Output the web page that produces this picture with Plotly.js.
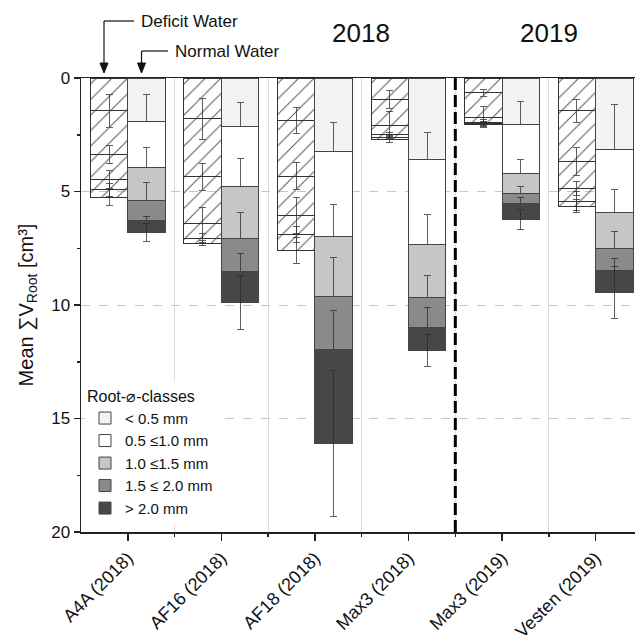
<!DOCTYPE html>
<html>
<head>
<meta charset="utf-8">
<script src="https://cdn.plot.ly/plotly-3.0.1.min.js"></script>
<style>html,body{margin:0;padding:0;background:#fff;}#chart{width:635px;height:638px;}</style>
</head>
<body>
<div id="chart"></div>
<script>
// ---- data ----
const categories = ['A4A (2018)', 'AF16 (2018)', 'AF18 (2018)', 'Max3 (2018)', 'Max3 (2019)', 'Vesten (2019)'];
const classes = ['< 0.5 mm', '0.5 ≤1.0 mm', '1.0 ≤1.5 mm', '1.5 ≤ 2.0 mm', '> 2.0 mm'];
const classColors = ['#f3f3f3', '#ffffff', '#c6c6c6', '#8a8a8a', '#474747'];

// Deficit water: per class, value for each category (segment sizes)
const deficitLt05   = [1.45, 1.79, 1.86, 0.95, 0.66, 1.45];
const deficit05to10 = [1.92, 2.57, 2.47, 1.13, 1.06, 2.21];
const deficit10to15 = [1.09, 2.03, 1.72, 0.40, 0.22, 1.21];
const deficit15to20 = [0.47, 0.66, 0.84, 0.12, 0.06, 0.55];
const deficitGt20   = [0.33, 0.22, 0.70, 0.10, 0.05, 0.22];
// Normal water
const normalLt05   = [1.91, 2.13, 3.22, 3.58, 2.04, 3.15];
const normal05to10 = [2.04, 2.63, 3.78, 3.75, 2.17, 2.78];
const normal10to15 = [1.45, 2.32, 2.62, 2.35, 0.86, 1.59];
const normal15to20 = [0.87, 1.44, 2.34, 1.32, 0.44, 0.95];
const normalGt20   = [0.53, 1.37, 4.14, 1.00, 0.73, 0.98];

// Error (±) for each segment
const deficitErrLt05   = [0.73, 0.90, 0.58, 0.38, 0.15, 0.50];
const deficitErr05to10 = [0.40, 0.60, 0.60, 0.60, 0.45, 0.62];
const deficitErr10to15 = [0.40, 0.70, 0.80, 0.10, 0.10, 0.30];
const deficitErr15to20 = [0.30, 0.20, 0.35, 0.10, 0.08, 0.40];
const deficitErrGt20   = [0.35, 0.10, 0.57, 0.15, 0.10, 0.30];
const normalErrLt05   = [1.18, 1.05, 1.28, 1.20, 1.00, 2.00];
const normalErr05to10 = [0.90, 1.20, 1.42, 1.30, 0.60, 1.00];
const normalErr10to15 = [0.80, 1.15, 1.70, 1.00, 0.30, 0.75];
const normalErr15to20 = [0.15, 0.80, 1.70, 0.90, 0.25, 0.50];
const normalErrGt20   = [0.40, 1.20, 3.20, 0.70, 0.44, 1.15];

const yTicks = [0, 5, 10, 15, 20];
const yearLabels = ['2018', '2019'];

// ---- build ----
const deficitVals = [deficitLt05, deficit05to10, deficit10to15, deficit15to20, deficitGt20];
const normalVals = [normalLt05, normal05to10, normal10to15, normal15to20, normalGt20];
const deficitErrs = [deficitErrLt05, deficitErr05to10, deficitErr10to15, deficitErr15to20, deficitErrGt20];
const normalErrs = [normalErrLt05, normalErr05to10, normalErr10to15, normalErr15to20, normalErrGt20];

const idx = categories.map((c, i) => i);
const errStyle = (arr) => ({type: 'data', array: arr, visible: true, color: 'rgba(40,40,40,0.75)', thickness: 1, width: 3.5});
const traces = [];
classes.forEach((cls, k) => {
  traces.push({
    type: 'bar', name: cls, x: idx.map(i => i - 0.2), y: deficitVals[k], width: 0.4,
    showlegend: false, legendgroup: cls,
    marker: {color: classColors[k], line: {color: '#333', width: 1},
             pattern: {shape: '/', fgcolor: '#555', size: 11, solidity: 0.09, fillmode: 'replace'}},
    error_y: errStyle(deficitErrs[k]), hoverinfo: 'skip'
  });
});
classes.forEach((cls, k) => {
  traces.push({
    type: 'bar', name: cls, x: idx.map(i => i + 0.2), y: normalVals[k], width: 0.4,
    showlegend: true, legendgroup: cls,
    marker: {color: classColors[k], line: {color: '#444', width: 1}},
    error_y: errStyle(normalErrs[k]), hoverinfo: 'skip'
  });
});

// pixel helpers for annotations (plot area: l=81, r=635, t=78, b=532)
const L = 81, R = 635, T = 78, B = 532;
const xp = px => (px - L) / (R - L);
const yp = py => (B - py) / (B - T);
const txt = {family: 'Liberation Sans, Arial, sans-serif', color: '#111'};
const arrowHead = (px, py) => 'M ' + xp(px - 4) + ' ' + yp(py - 10) + ' L ' + xp(px + 4) + ' ' + yp(py - 10) +
  ' L ' + xp(px) + ' ' + yp(py) + ' Z';

const layout = {
  width: 635, height: 638,
  margin: {l: L, r: 0, t: T, b: 638 - B, pad: 0},
  paper_bgcolor: '#fff', plot_bgcolor: '#fff',
  barmode: 'stack',
  font: {family: 'Liberation Sans, Arial, sans-serif', size: 17, color: '#111'},
  xaxis: {
    range: [-0.5, 5.42], tickmode: 'array', tickvals: idx, ticktext: categories,
    tickangle: -45, ticks: 'outside', ticklen: 7, tickwidth: 1.5, tickcolor: '#222',
    showline: true, linecolor: '#222', linewidth: 1.5, mirror: true, showgrid: false, zeroline: false,
    tickfont: {size: 18},
    minor: {tickmode: 'array', tickvals: [0.5, 1.5, 2.5, 3.5, 4.5], ticks: 'outside', ticklen: 3,
            tickwidth: 1.5, tickcolor: '#222', showgrid: true, gridcolor: '#d9d9d9', gridwidth: 1}
  },
  yaxis: {
    range: [20, 0], tickmode: 'array', tickvals: yTicks, ticks: 'outside', ticklen: 6, tickwidth: 1.5, tickcolor: '#222',
    showline: true, linecolor: '#222', linewidth: 1.5, zeroline: false,
    showgrid: true, gridcolor: '#c8c8c8', griddash: 'dash', gridwidth: 1,
    tickfont: {size: 17},
    minor: {dtick: 2.5, ticks: 'outside', ticklen: 3, tickwidth: 1.5, tickcolor: '#222', showgrid: false},
    title: {text: 'Mean ∑V<sub>Root</sub> [cm³]', font: {size: 20}, standoff: 12}
  },
  legend: {
    x: xp(85), y: yp(381), xanchor: 'left', yanchor: 'top', bgcolor: '#fff', borderwidth: 0,
    traceorder: 'normal', tracegroupgap: 0, font: {size: 15},
    title: {text: 'Root-⌀-classes', font: {size: 16}}
  },
  shapes: [
    {type: 'line', xref: 'x', yref: 'paper', x0: 3.5, x1: 3.5, y0: 0, y1: 1,
     line: {color: '#000', width: 3, dash: '12px,5px'}},
    // "Deficit Water" pointer
    {type: 'line', xref: 'paper', yref: 'paper', x0: xp(104), x1: xp(134), y0: yp(21), y1: yp(21),
     line: {color: '#111', width: 1.2}},
    {type: 'line', xref: 'paper', yref: 'paper', x0: xp(104), x1: xp(104), y0: yp(21), y1: yp(64),
     line: {color: '#111', width: 1.2}},
    {type: 'path', xref: 'paper', yref: 'paper', path: arrowHead(104, 73), fillcolor: '#111', line: {color: '#111', width: 1}},
    // "Normal Water" pointer
    {type: 'line', xref: 'paper', yref: 'paper', x0: xp(141.5), x1: xp(168), y0: yp(51), y1: yp(51),
     line: {color: '#111', width: 1.2}},
    {type: 'line', xref: 'paper', yref: 'paper', x0: xp(141.5), x1: xp(141.5), y0: yp(51), y1: yp(64),
     line: {color: '#111', width: 1.2}},
    {type: 'path', xref: 'paper', yref: 'paper', path: arrowHead(141.5, 73), fillcolor: '#111', line: {color: '#111', width: 1}}
  ],
  annotations: [
    {xref: 'paper', yref: 'paper', x: xp(139), y: yp(21), xanchor: 'left', yanchor: 'middle',
     text: 'Deficit Water', showarrow: false, font: Object.assign({size: 17}, txt)},
    {xref: 'paper', yref: 'paper', x: xp(173), y: yp(51), xanchor: 'left', yanchor: 'middle',
     text: 'Normal Water', showarrow: false, font: Object.assign({size: 17}, txt)},
    {xref: 'paper', yref: 'paper', x: xp(361), y: yp(33), xanchor: 'center', yanchor: 'middle',
     text: yearLabels[0], showarrow: false, font: Object.assign({size: 26}, txt)},
    {xref: 'paper', yref: 'paper', x: xp(549), y: yp(33), xanchor: 'center', yanchor: 'middle',
     text: yearLabels[1], showarrow: false, font: Object.assign({size: 26}, txt)}
  ]
};

Plotly.newPlot('chart', traces, layout, {displayModeBar: false, staticPlot: true});
</script>
</body>
</html>
